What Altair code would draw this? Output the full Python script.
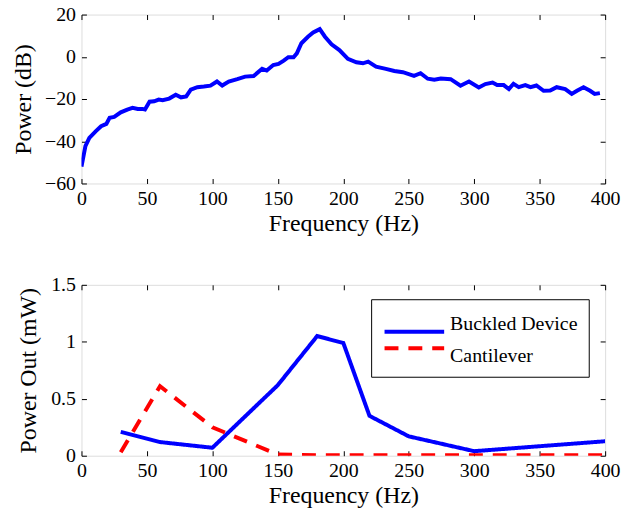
import altair as alt
import pandas as pd

# ---------------- data ----------------
top_freq = [0, 3, 6, 11, 15, 19, 21.5, 25, 30, 35, 39, 43, 46.5, 48.5, 52, 55.5, 59, 62,
            67, 72, 76, 80, 83.5, 88.5, 93.5, 98.5, 103.5, 107.5, 112.5, 119, 125, 131.5,
            138, 141.5, 146.5, 150.5, 154.5, 158, 162, 164.5, 168, 173, 177, 182, 186, 191,
            197, 203.5, 210, 215, 219, 225, 232.5, 239, 245.5, 254, 259, 264.5, 269.5, 274.5,
            282, 289.5, 296, 303.5, 308.5, 314, 317.5, 322.5, 326.5, 330, 334, 339, 343,
            347.5, 353, 358, 363, 369.5, 374.5, 378.5, 383.5, 388.5, 392, 396]
top_db = [-52, -42.3, -38.4, -35.2, -32.9, -31.8, -28.9, -28.5, -26.3, -25, -24.2, -24.7,
          -24.7, -25, -21.3, -21.1, -20.3, -20.6, -19.8, -18, -19.2, -18.8, -15.6, -14.4,
          -14.1, -13.7, -11.7, -13.6, -11.7, -10.6, -9.4, -9.1, -5.7, -6.5, -3.9, -3.4,
          -1.8, -0.2, -0.2, 1.6, 6.4, 9.5, 11.5, 13.1, 9.5, 5.9, 3.2, -1.0, -2.6, -3.1,
          -2.3, -4.7, -5.7, -6.7, -7.3, -9.0, -7.8, -10.4, -10.9, -10.3, -10.6, -13.7,
          -11.7, -14.5, -12.9, -12.2, -13.4, -13.4, -15.3, -12.8, -14.4, -13.4, -14.4,
          -13.6, -16.1, -16.0, -14.4, -15.3, -17.6, -16.1, -14.4, -16.1, -17.6, -17.2]

bot_freq = [30, 60, 100, 150, 180, 200, 220, 250, 300, 400]
buckled = [0.21, 0.12, 0.07, 0.62, 1.05, 0.99, 0.35, 0.17, 0.04, 0.127]
cantilever = [0.03, 0.61, 0.25, 0.01, 0.005, 0.005, 0.005, 0.005, 0.005, 0.005]
series_names = ["Buckled Device", "Cantilever"]

x_ticks = [0, 50, 100, 150, 200, 250, 300, 350, 400]
top_y_ticks = [-60, -40, -20, 0, 20]
bot_y_ticks = [0, 0.5, 1, 1.5]

# ---------------- styling ----------------
FONT = "Times New Roman, Liberation Serif, DejaVu Serif, serif"
W = 527
BLUE = "#0000ff"
RED = "#ff0000"
TICK = 5
DASHES = [[1, 0], [14, 10]]
LABEL_SIZE = 20
TITLE_SIZE = 24


def main_axis(values, title, fmt=None, title_pad=10, label_pad=6):
    kw = dict(values=values, domain=False, offset=-TICK, tickSize=TICK, tickColor="black",
              tickWidth=1, labelFontSize=LABEL_SIZE, labelFont=FONT, labelColor="black",
              labelPadding=label_pad, title=title, titleFont=FONT, titleFontSize=TITLE_SIZE,
              titleFontWeight="normal", titleColor="black", titlePadding=title_pad,
              grid=False, labelFlush=False, labelOverlap=False)
    if fmt:
        kw["format"] = fmt
    return alt.Axis(**kw)


def mirror_axis(values, orient):
    return alt.Axis(values=values, orient=orient, domain=False, offset=-TICK, tickSize=TICK,
                    tickColor="black", tickWidth=1, labels=False, title=None, grid=False)


top_df = pd.DataFrame({"f": top_freq, "p": top_db})

xs_top = alt.Scale(domain=[0, 400], nice=False)
ys_top = alt.Scale(domain=[-60, 20], nice=False)

top_main = alt.Chart(top_df).mark_line(color=BLUE, strokeWidth=4, clip=True).encode(
    x=alt.X("f:Q", scale=xs_top,
            axis=main_axis(x_ticks, "Frequency (Hz)", title_pad=3, label_pad=5)),
    y=alt.Y("p:Q", scale=ys_top, axis=main_axis(top_y_ticks, "Power (dB)", title_pad=9)),
)
top_mirror = alt.Chart(top_df).mark_line(opacity=0).encode(
    x=alt.X("f:Q", scale=xs_top, axis=mirror_axis(x_ticks, "top")),
    y=alt.Y("p:Q", scale=ys_top, axis=mirror_axis(top_y_ticks, "right")),
)
top = alt.layer(top_main, top_mirror).resolve_scale(x="independent", y="independent") \
    .resolve_axis(x="independent", y="independent").properties(width=W, height=170)

rows = []
for name, vals in zip(series_names, [buckled, cantilever]):
    for f, v in zip(bot_freq, vals):
        rows.append({"f": f, "v": v, "s": name})
bot_df = pd.DataFrame(rows)
leg_df = pd.DataFrame({"s": series_names})

xs_bot = alt.Scale(domain=[0, 400], nice=False)
ys_bot = alt.Scale(domain=[0, 1.5], nice=False)
color_scale = alt.Scale(domain=series_names, range=[BLUE, RED])
dash_scale = alt.Scale(domain=series_names, range=DASHES)

bot_main = alt.Chart(bot_df).mark_line(strokeWidth=4, clip=True).encode(
    x=alt.X("f:Q", scale=xs_bot,
            axis=main_axis(x_ticks, "Frequency (Hz)", title_pad=3, label_pad=5)),
    y=alt.Y("v:Q", scale=ys_bot, axis=main_axis(bot_y_ticks, "Power Out (mW)", fmt="~g",
                                                  title_pad=10)),
    color=alt.Color("s:N", scale=color_scale, legend=None),
    strokeDash=alt.StrokeDash("s:N", scale=dash_scale, legend=None),
)
bot_mirror = alt.Chart(bot_df).mark_line(opacity=0).encode(
    x=alt.X("f:Q", scale=xs_bot, axis=mirror_axis(x_ticks, "top")),
    y=alt.Y("v:Q", scale=ys_bot, axis=mirror_axis(bot_y_ticks, "right")),
    detail="s:N",
)

# legend drawn as marks inside the plot area
leg_y = alt.Y("s:N", axis=None,
              scale=alt.Scale(domain=series_names, range=[39, 72], padding=0))
leg_box = alt.Chart(leg_df).transform_filter(alt.datum.s == series_names[0]).mark_rect(
    fill="white", stroke="black", strokeWidth=1
).encode(x=alt.value(292), x2=alt.value(511), y=alt.value(15), y2=alt.value(93))
leg_lines = alt.Chart(leg_df).mark_rule(strokeWidth=4).encode(
    x=alt.value(305), x2=alt.value(365), y=leg_y,
    color=alt.Color("s:N", scale=color_scale, legend=None),
    strokeDash=alt.StrokeDash("s:N", scale=dash_scale, legend=None),
)
leg_text = alt.Chart(leg_df).mark_text(align="left", baseline="middle", font=FONT,
                                       fontSize=20, color="black").encode(
    x=alt.value(371), y=leg_y, text="s:N"
)

bottom = alt.layer(bot_main, bot_mirror, leg_box, leg_lines, leg_text) \
    .resolve_scale(x="independent", y="independent") \
    .resolve_axis(x="independent", y="independent").properties(width=W, height=172)

chart = alt.vconcat(top, bottom, spacing=38).properties(
    padding={"left": 11, "top": 2, "right": 5, "bottom": 5}
).configure_view(stroke="black", strokeWidth=1).configure(background="white")

chart.save("out.html", embed_options={"renderer": "svg", "actions": False})
